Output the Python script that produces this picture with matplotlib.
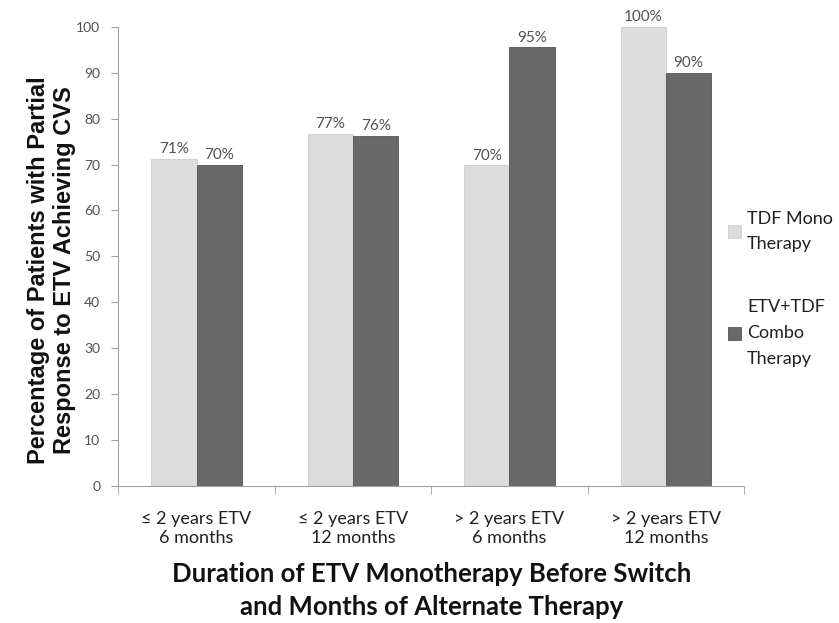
import numpy as np
import matplotlib.pyplot as plt

categories = ["\u2264 2 years ETV\n6 months", "\u2264 2 years ETV\n12 months",
              "> 2 years ETV\n6 months", "> 2 years ETV\n12 months"]
mono = [71.2, 76.7, 69.8, 100.0]
combo = [70.0, 76.2, 95.5, 90.0]
mono_labels = ["71%", "77%", "70%", "100%"]
combo_labels = ["70%", "76%", "95%", "90%"]
series_names = ["TDF Mono\nTherapy", "ETV+TDF\nCombo\nTherapy"]

plt.rcParams['font.family'] = ['Lato', 'DejaVu Sans']

fig = plt.figure(figsize=(8.39, 6.23), dpi=100)
ax = fig.add_axes([0.141, 0.22, 0.746, 0.737])

x = np.arange(len(categories))
w = 0.29
b1 = ax.bar(x - w/2, mono, w, color='#dcdcdc', edgecolor='#cfcfcf', linewidth=0.6, label=series_names[0])
b2 = ax.bar(x + w/2, combo, w, color='#686868', edgecolor='#555555', linewidth=0.6, label=series_names[1])

for rect, lab in zip(b1, mono_labels):
    ax.text(rect.get_x() + rect.get_width()/2, rect.get_height() + 0.6, lab,
            ha='center', va='bottom', fontsize=11, color='#505050')
for rect, lab in zip(b2, combo_labels):
    ax.text(rect.get_x() + rect.get_width()/2, rect.get_height() + 0.6, lab,
            ha='center', va='bottom', fontsize=11, color='#505050')

ax.set_xlim(-0.5, len(categories) - 0.5)
ax.set_ylim(0, 100)
ax.set_yticks(range(0, 101, 10))
ax.tick_params(axis='y', labelsize=10, labelcolor='#505050', color='#a0a0a0', length=5, pad=8)

ax.set_xticks(x)
ax.set_xticklabels(categories, fontsize=13, color='#202020', linespacing=1.2)
ax.tick_params(axis='x', length=0, pad=18)
ax.set_xticks(np.arange(-0.5, len(categories)), minor=True)
ax.tick_params(axis='x', which='minor', length=6, color='#a0a0a0')

for s in ['top', 'right']:
    ax.spines[s].set_visible(False)
for s in ['left', 'bottom']:
    ax.spines[s].set_color('#a0a0a0')

ax.set_ylabel("Percentage of Patients with Partial\nResponse to ETV Achieving CVS",
              fontsize=17, fontweight='bold', family=['Liberation Sans', 'DejaVu Sans'],
              color='#111111', linespacing=1.15)
ax.yaxis.set_label_coords(-0.068, 0.47)
ax.set_xlabel("Duration of ETV Monotherapy Before Switch\nand Months of Alternate Therapy",
              fontsize=18.5, fontweight='bold', color='#111111', labelpad=12, linespacing=1.45)

leg = fig.legend(handles=[b1, b2], labels=series_names, loc='upper left',
                 bbox_to_anchor=(0.868, 0.662), frameon=False, fontsize=13,
                 handlelength=0.7, handleheight=0.7, handletextpad=0.35, labelspacing=2.6,
                 labelcolor='#202020', borderaxespad=0, borderpad=0)
for t in leg.get_texts():
    t.set_linespacing(1.75)

fig.savefig("out.png", dpi=100)
